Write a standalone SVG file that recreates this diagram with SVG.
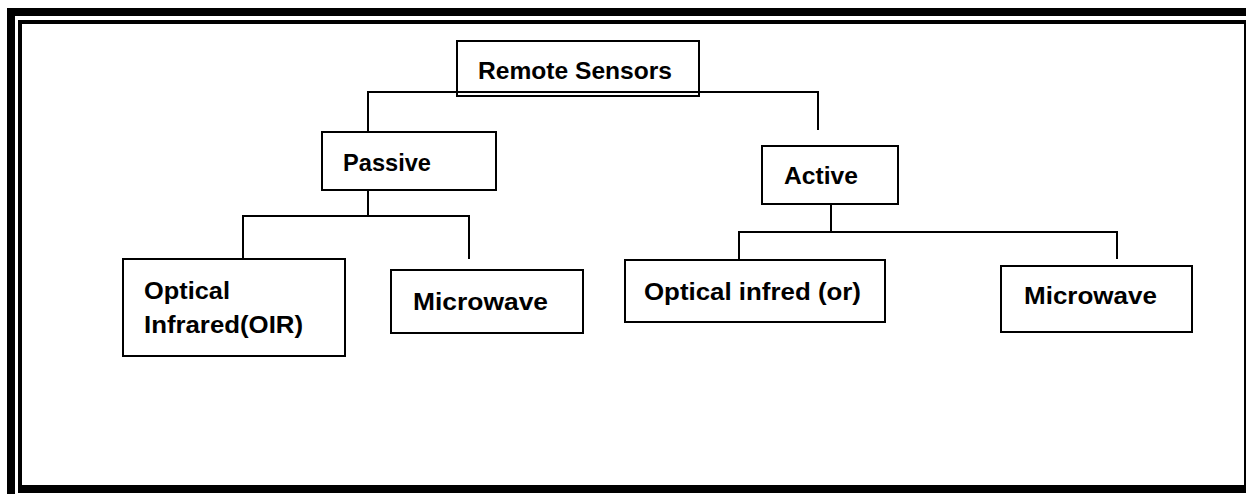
<svg xmlns="http://www.w3.org/2000/svg" width="1246" height="494" viewBox="0 0 1246 494">
  <style>
    .box { fill: #ffffff; stroke: #000000; stroke-width: 2; }
    .wire { fill: none; stroke: #000000; stroke-width: 2; }
    .lbl { font-family: "Liberation Sans", Arial, sans-serif; font-weight: bold; font-size: 24.5px; fill: #000000; }
    .frame { fill: #000000; }
  </style>
  <rect width="1246" height="494" fill="#ffffff"/>

  <!-- double page border -->
  <g id="frame">
    <rect class="frame" x="7" y="8" width="8" height="486"/>
    <rect class="frame" x="7" y="8" width="1239" height="8"/>
    <rect class="frame" x="18" y="20" width="1228" height="4"/>
    <rect class="frame" x="18" y="20" width="4" height="473"/>
    <rect class="frame" x="18" y="485" width="1228" height="8"/>
    <rect class="frame" x="1244" y="20" width="2" height="473"/>
  </g>

  <g id="root">
    <rect class="box" x="457" y="41" width="242" height="55"/>
    <text class="lbl" x="478" y="79" textLength="194" lengthAdjust="spacingAndGlyphs">Remote Sensors</text>
  </g>

  <g id="connectors">
    <polyline class="wire" points="368,132 368,92 818,92 818,130"/>
    <polyline class="wire" points="243,259 243,216 469,216 469,259"/>
    <line class="wire" x1="368" y1="190" x2="368" y2="216"/>
    <polyline class="wire" points="739,260 739,232 1117,232 1117,259"/>
    <line class="wire" x1="831" y1="204" x2="831" y2="232"/>
  </g>

  <g id="passive">
    <rect class="box" x="322" y="132" width="174" height="58"/>
    <text class="lbl" x="343" y="171" textLength="88" lengthAdjust="spacingAndGlyphs">Passive</text>
  </g>

  <g id="active">
    <rect class="box" x="762" y="146" width="136" height="58"/>
    <text class="lbl" x="784" y="184" textLength="74" lengthAdjust="spacingAndGlyphs">Active</text>
  </g>

  <g id="passive-oir">
    <rect class="box" x="123" y="259" width="222" height="97"/>
    <text class="lbl" x="144" y="299" textLength="86" lengthAdjust="spacingAndGlyphs">Optical</text>
    <text class="lbl" x="144" y="333" textLength="159" lengthAdjust="spacingAndGlyphs">Infrared(OIR)</text>
  </g>

  <g id="passive-microwave">
    <rect class="box" x="391" y="270" width="192" height="63"/>
    <text class="lbl" x="413" y="310" textLength="135" lengthAdjust="spacingAndGlyphs">Microwave</text>
  </g>

  <g id="active-oir">
    <rect class="box" x="625" y="260" width="260" height="62"/>
    <text class="lbl" x="644" y="300" textLength="217" lengthAdjust="spacingAndGlyphs">Optical infred (or)</text>
  </g>

  <g id="active-microwave">
    <rect class="box" x="1001" y="266" width="191" height="66"/>
    <text class="lbl" x="1024" y="304" textLength="133" lengthAdjust="spacingAndGlyphs">Microwave</text>
  </g>
</svg>
